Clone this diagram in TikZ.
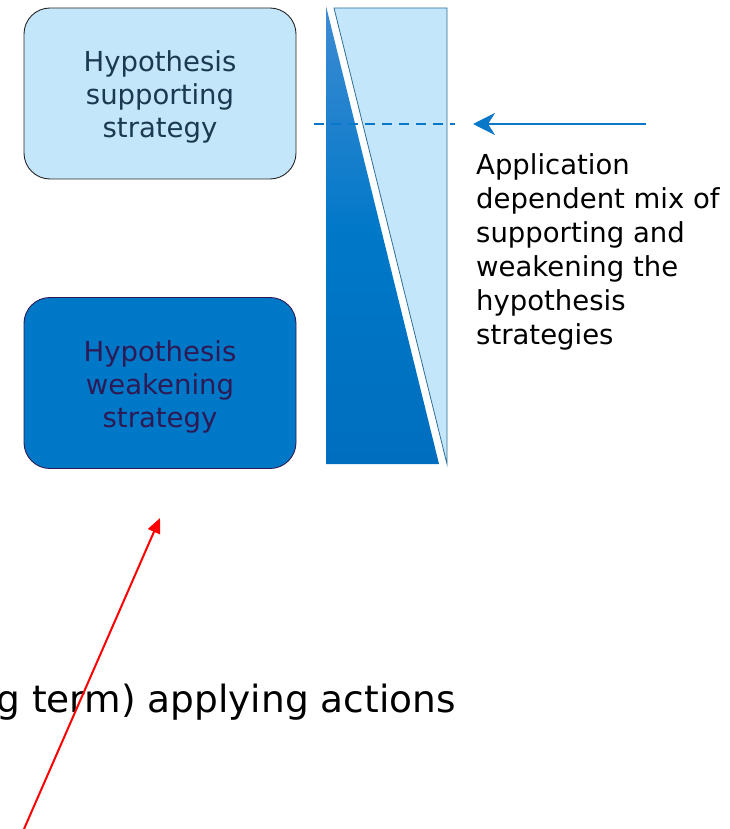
\documentclass[tikz,border=0pt]{standalone}
\usepackage{fontspec}
\setmainfont{DejaVu Sans}
\usetikzlibrary{positioning,arrows.meta}
\definecolor{paleblue}{HTML}{C3E6FB}
\definecolor{midblue}{HTML}{0078C8}
\definecolor{lineblue}{HTML}{0A78C8}
\definecolor{topblue}{HTML}{3F8BD3}
\definecolor{deepblue}{HTML}{006EBE}
\definecolor{edgeblue}{HTML}{2E6F98}
\definecolor{slatetext}{HTML}{1B3A52}
\definecolor{purpletext}{HTML}{2D1A55}
\tikzset{
  every node/.style={text=black, inner sep=0pt, font=\fontsize{27.5}{33}\selectfont},
  box/.style={rounded corners=26pt, minimum width=272pt, minimum height=171pt, line width=0.9pt},
  mixline/.style={draw=lineblue, line width=2pt}
}

\begin{document}
\begin{tikzpicture}[x=1pt, y=-1pt]
  \useasboundingbox (0,0) rectangle (730,829);
  % Nodes
  \node (supporting) [box, fill=paleblue, draw=black!85] at (160,93.5) {};
  \node (supportinglabel) [align=center, text=slatetext] at ([yshift=-3.5pt]supporting.center) {Hypothesis\\supporting\\strategy};
  \node (weakening) [box, fill=midblue, draw=purpletext] at (160,383) {};
  \node (weakeninglabel) [align=center, text=purpletext] at ([yshift=-4pt]weakening.center) {Hypothesis\\weakening\\strategy};
  \node (mixnote) [anchor=north west, align=left, font=\fontsize{27.5}{34}\selectfont] at (476,153) {Application\\dependent mix of\\supporting and\\weakening the\\hypothesis\\strategies};
  \node (actions) [anchor=base east, font=\fontsize{37.5}{44}\selectfont] at (456,712) {g term) applying actions};

  % Mix bar
  \shade[top color=topblue, bottom color=deepblue, middle color=midblue] (326,6) -- (439,464) -- (326,464) -- cycle;
  \draw[fill=paleblue, draw=edgeblue, line width=0.8pt] (334,8) -- (447,8) -- (447,464) -- cycle;

  % Connectors
  \coordinate (levelstart) at (314,124);
  \coordinate (levelend) at (455,124);
  \coordinate (pointer) at (646,124);
  \coordinate (pointertip) at (473,124);
  \coordinate (redstart) at (24,829);
  \coordinate (redtip) at (160,518);
  \draw[mixline, dash pattern=on 10pt off 7pt] (levelstart) -- (levelend);
  \draw[mixline, -{Stealth[length=22pt, width=22pt, inset=7pt]}] (pointer) -- (pointertip);
  \draw[red, line width=2pt, -{Triangle[length=15pt, width=13pt]}] (redstart) -- (redtip);
\end{tikzpicture}
\end{document}
